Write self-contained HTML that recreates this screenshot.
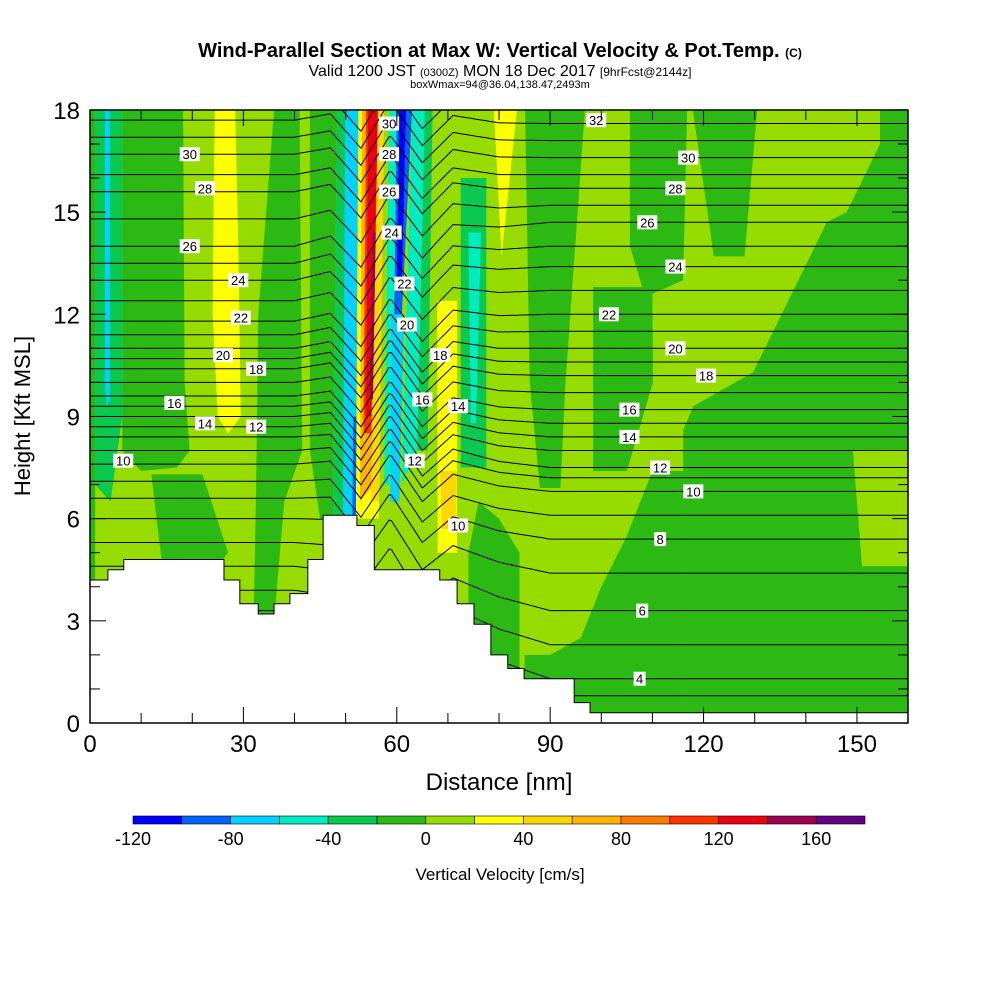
<!DOCTYPE html>
<html><head><meta charset="utf-8"><style>
body{margin:0;background:#fff}
svg text{font-family:"Liberation Sans",sans-serif}
</style></head><body>
<svg id="c" width="1000" height="1000" viewBox="0 0 1000 1000">
<text x="500" y="57" text-anchor="middle" font-size="20" font-weight="bold">Wind-Parallel Section at Max W: Vertical Velocity &amp; Pot.Temp. <tspan font-size="12">(C)</tspan></text>
<text x="500" y="76" text-anchor="middle" font-size="16">Valid 1200 JST <tspan font-size="11">(0300Z)</tspan> MON 18 Dec 2017 <tspan font-size="12">[9hrFcst@2144z]</tspan></text>
<text x="500" y="88" text-anchor="middle" font-size="11">boxWmax=94@36.04,138.47,2493m</text>
<defs><clipPath id="pc"><rect x="90" y="110" width="818" height="613"/></clipPath></defs>
<g id="plot" clip-path="url(#pc)"></g>
<g id="axes"></g>
<text x="30" y="416" transform="rotate(-90 30 416)" text-anchor="middle" font-size="22">Height [Kft MSL]</text>
<text x="499" y="790" text-anchor="middle" font-size="24">Distance [nm]</text>
<g id="cbar"></g>
<text x="500" y="880" text-anchor="middle" font-size="17">Vertical Velocity [cm/s]</text>
</svg>
<script>
const levels=[-120,-100,-80,-60,-40,-20,0,20,40,60,80,100,120,140,160,180];
const colors=["#0000ff","#0064ff","#00d2ff","#00ebc0","#0ac850","#2cb914","#96dc00","#ffff00","#ffd700","#ffb400","#ff7800","#ff3200","#eb0014","#a00050","#640082"];
const cbarLabels=[-120,-80,-40,0,40,80,120,160];
// field regions: [w (cm/s), polygon in [nm,kft]]
const regionW=[10,-10,-30,-70,-10,-10,30,-10,-10,-10,
 -30,-70,-90,30,70,110,130,150,50,-50,-70,-90,-110,-50,-30,30,50,-30,-50,30,-10,-10,-10,-10,-10,10,-10];
const regionPts=[
 [[0,0],[160,0],[160,18],[0,18]],
 [[0,4],[1,4],[1,18],[0,18]],
 [[1,18],[6.3,18],[6.3,9],[4,6.5],[1,7]],
 [[2.9,18],[3.9,18],[3.9,9.5],[3.2,9.3],[2.9,10]],
 [[6.3,18],[18.2,18],[18.5,10],[19.5,8],[17,7.5],[10,7.4],[6.3,8]],
 [[12,7.3],[22,7.3],[27,5],[26,4.8],[14,4.8],[13,6]],
 [[24.4,18],[28.4,18],[29,14],[29.5,9],[27,8.5],[25,9],[24,12],[24.1,14]],
 [[36,18],[41,18],[41.5,8],[38,6.5],[36,3],[32,3],[32.5,7],[32.9,12]],
 [[43,18],[48.3,18],[47.5,6],[45,6],[43,8]],
 [[74,0],[84,0],[84,5],[80,6],[76,6.5],[74,5]],
 [[48.3,18],[50,18],[49.5,6],[47.5,6]],
 [[49.9,18],[52.5,18],[52,6.1],[49.5,6.1]],
 [[51.5,9],[52.2,9],[52,5.8],[51.3,5.8]],
 [[52.5,18],[57.5,18],[56.5,6],[52,6]],
 [[53.2,18],[57,18],[55.5,7],[52.8,6.5]],
 [[54,18],[56.5,18],[55,8.5],[53.5,8.5]],
 [[54.4,18],[56.3,18],[55,9],[54,9]],
 [[55.2,14.4],[56.2,14.4],[55.4,9.5],[54.7,9.5]],
 [[56.3,18],[57.5,18],[56.5,6.5],[55,6.5]],
 [[58.5,18],[60,18],[59,7],[57.5,7]],
 [[59,12],[61.5,12],[60.5,6.5],[58.7,6.5]],
 [[60,18],[63,18],[61,12],[59.5,12]],
 [[60.5,18],[61.8,18],[61,13],[60,13]],
 [[63,18],[65.5,18],[64,8],[61,7]],
 [[65.5,18],[67,18],[66,8],[64,8]],
 [[67.9,12.4],[71.8,12.4],[71.8,5],[68,5]],
 [[68.5,7.4],[71.8,7.4],[71.5,5.7],[68.8,5.7]],
 [[72.5,16],[77.5,16],[77.5,7.5],[72.5,7.5]],
 [[74,14.4],[76.5,14.4],[75.5,8.8],[74.5,8.8]],
 [[79,18],[83.5,18],[80.5,13.7]],
 [[85.1,18],[96.8,18],[93,10],[92,6.9],[88,6.9],[86,10]],
 [[105.6,18],[116.8,18],[116,13],[110,12.6],[108,12.8],[105.6,14]],
 [[98.4,12.8],[110,12.8],[110.1,10],[105,7.4],[98.4,7.4]],
 [[117.9,18],[130.5,18],[128,13.7],[122,13.7]],
 [[154.5,18],[160,18],[160,0],[116,0],[116,8.6],[118,9.3],[129.7,10.3],[144.1,14.7],[148,15],[154.5,17]],
 [[149.2,8],[160,8],[160,4.6],[151,4.6]],
 [[85,0],[116,0],[116,7.4],[110,7.4],[105,5.5],[100,4],[96,2.5],[90,2],[85,2]]
];
// terrain steps: [x start nm, height kft]
const terrain=[[0,4.2],[3.5,4.5],[6.6,4.8],[26.2,4.2],[29.3,3.5],[32.9,3.2],[36,3.5],[39.1,3.8],[42.6,4.8],[45.6,6.1],[52.2,5.8],[55.6,4.5],[68.4,4.2],[71.8,3.5],[75.1,2.9],[78.4,2.0],[81.7,1.6],[84.9,1.3],[94.7,0.6],[97.8,0.3],[160,0.3]];
// theta contours: level, left height, right height (kft)
const thetaLv=[3,4,5,6,7,8,9,10,11,12,13,14,15,16,17,18,19,20,21,22,23,24,25,26,27,28,29,30,31,32,33];
const thetaL=[3.3,3.9,4.6,5.3,6.0,6.6,7.1,7.6,8.0,8.4,8.7,9.0,9.3,9.6,10.0,10.4,10.7,11.0,11.4,11.8,12.4,13.0,13.5,14.0,14.8,15.6,16.1,16.7,17.2,17.7,18.2];
const thetaR=[0.8,1.3,2.3,3.3,4.4,5.4,6.1,6.8,7.2,7.5,8.0,8.4,8.8,9.2,9.7,10.2,10.6,11.0,11.5,12.0,12.7,13.4,14.0,14.7,15.2,15.7,16.1,16.6,17.1,17.6,18.1];
const dipX=[0,40,47,53,58.7,65,71,80,160];
const dipV=[0,0,0.2,-0.8,0.6,-0.7,0.2,0,0];
const cLabels=[["30",58.5,17.6],["28",58.5,16.7],["26",58.5,15.6],["24",59,14.4],["22",61.5,12.9],["20",62,11.7],["18",68.5,10.8],["16",65,9.5],["14",72,9.3],["12",63.5,7.7],["10",72,5.8],
["30",19.5,16.7],["28",22.5,15.7],["26",19.5,14],["24",29,13],["22",29.5,11.9],["20",26,10.8],["18",32.5,10.4],["16",16.5,9.4],["14",22.5,8.8],["12",32.5,8.7],["10",6.5,7.7],
["32",99,17.7],["30",117,16.6],["28",114.5,15.7],["26",109,14.7],["24",114.5,13.4],["22",101.5,12],["20",114.5,11],["18",120.5,10.2],["16",105.5,9.2],["14",105.5,8.4],["12",111.5,7.5],["10",118,6.8],["8",111.5,5.4],["6",108,3.3],["4",107.5,1.3]];

const NS="http://www.w3.org/2000/svg";
const X=v=>90+v*5.113, Y=v=>723-v*34.06;
function colorOf(w){for(let i=0;i<colors.length;i++){if(w<levels[i+1])return colors[i];}return colors[colors.length-1];}
function mk(tag,attrs,parent){const e=document.createElementNS(NS,tag);for(const k in attrs)e.setAttribute(k,attrs[k]);parent.appendChild(e);return e;}
const plot=document.getElementById('plot');
regionPts.forEach((pts,i)=>{
 const p=mk('polygon',{points:pts.map(q=>X(q[0]).toFixed(1)+','+Y(q[1]).toFixed(1)).join(' '),fill:colorOf(regionW[i])},plot);
 
 
});
function dip(x){for(let i=0;i<dipX.length-1;i++){if(x<=dipX[i+1]){const t=(x-dipX[i])/(dipX[i+1]-dipX[i]);return dipV[i]+t*(dipV[i+1]-dipV[i]);}}return 0;}
thetaLv.forEach((lv,i)=>{
 let pts=[];
 for(let x=0;x<=160;x+=0.5){const t=Math.min(1,Math.max(0,(x-40)/50));const h=thetaL[i]*(1-t)+thetaR[i]*t+dip(x);pts.push(X(x).toFixed(1)+','+Y(h).toFixed(1));}
 const l=mk('polyline',{points:pts.join(' '),fill:'none',stroke:'#000','stroke-width':1},plot);
 
 
});
let tp=[`${X(0)},${Y(0)}`];
terrain.forEach((t,i)=>{const nx=i<terrain.length-1?terrain[i+1][0]:160;tp.push(`${X(t[0])},${Y(t[1])}`,`${X(nx)},${Y(t[1])}`);});
tp.push(`${X(160)},${Y(0)}`);
const ter=mk('polygon',{points:tp.join(' '),fill:'#fff',stroke:'#000','stroke-width':1},plot);


cLabels.forEach(c=>{
 const g=mk('g',{},plot);
 
 
 const w=c[0].length*8+4;
 mk('rect',{x:X(c[1])-w/2,y:Y(c[2])-7,width:w,height:14,fill:'#fff'},g);
 const t=mk('text',{x:X(c[1]),y:Y(c[2])+5,'text-anchor':'middle','font-size':13,'font-family':'Liberation Serif'},g);t.textContent=c[0];
});
const ax=document.getElementById('axes');
mk('rect',{x:90,y:110,width:818,height:613,fill:'none',stroke:'#000','stroke-width':1.5},ax);
for(let k=0;k<=18;k++){const y=Y(k),L=k%3==0?16:10;mk('line',{x1:90,y1:y,x2:90+L,y2:y,stroke:'#000'},ax);mk('line',{x1:908,y1:y,x2:908-L,y2:y,stroke:'#000'},ax);
 if(k%3==0){const t=mk('text',{x:80,y:y+9,'text-anchor':'end','font-size':24},ax);t.textContent=k;}}
for(let k=0;k<=150;k+=10){const x=X(k),L=k%30==0?16:10;mk('line',{x1:x,y1:723,x2:x,y2:723-L,stroke:'#000'},ax);mk('line',{x1:x,y1:110,x2:x,y2:110+L,stroke:'#000'},ax);
 if(k%30==0){const t=mk('text',{x:x,y:752,'text-anchor':'middle','font-size':24},ax);t.textContent=k;}}
const cb=document.getElementById('cbar');
const cbX=v=>133+(v+120)*(865-133)/300;
colors.forEach((c,i)=>{const r=mk('rect',{x:cbX(levels[i]),y:816,width:cbX(levels[i+1])-cbX(levels[i]),height:8,fill:c,stroke:'#000','stroke-width':0.6},cb);});
cbarLabels.forEach(v=>{const t=mk('text',{x:cbX(v),y:845,'text-anchor':'middle','font-size':18},cb);t.textContent=v;});
</script>
</body></html>
